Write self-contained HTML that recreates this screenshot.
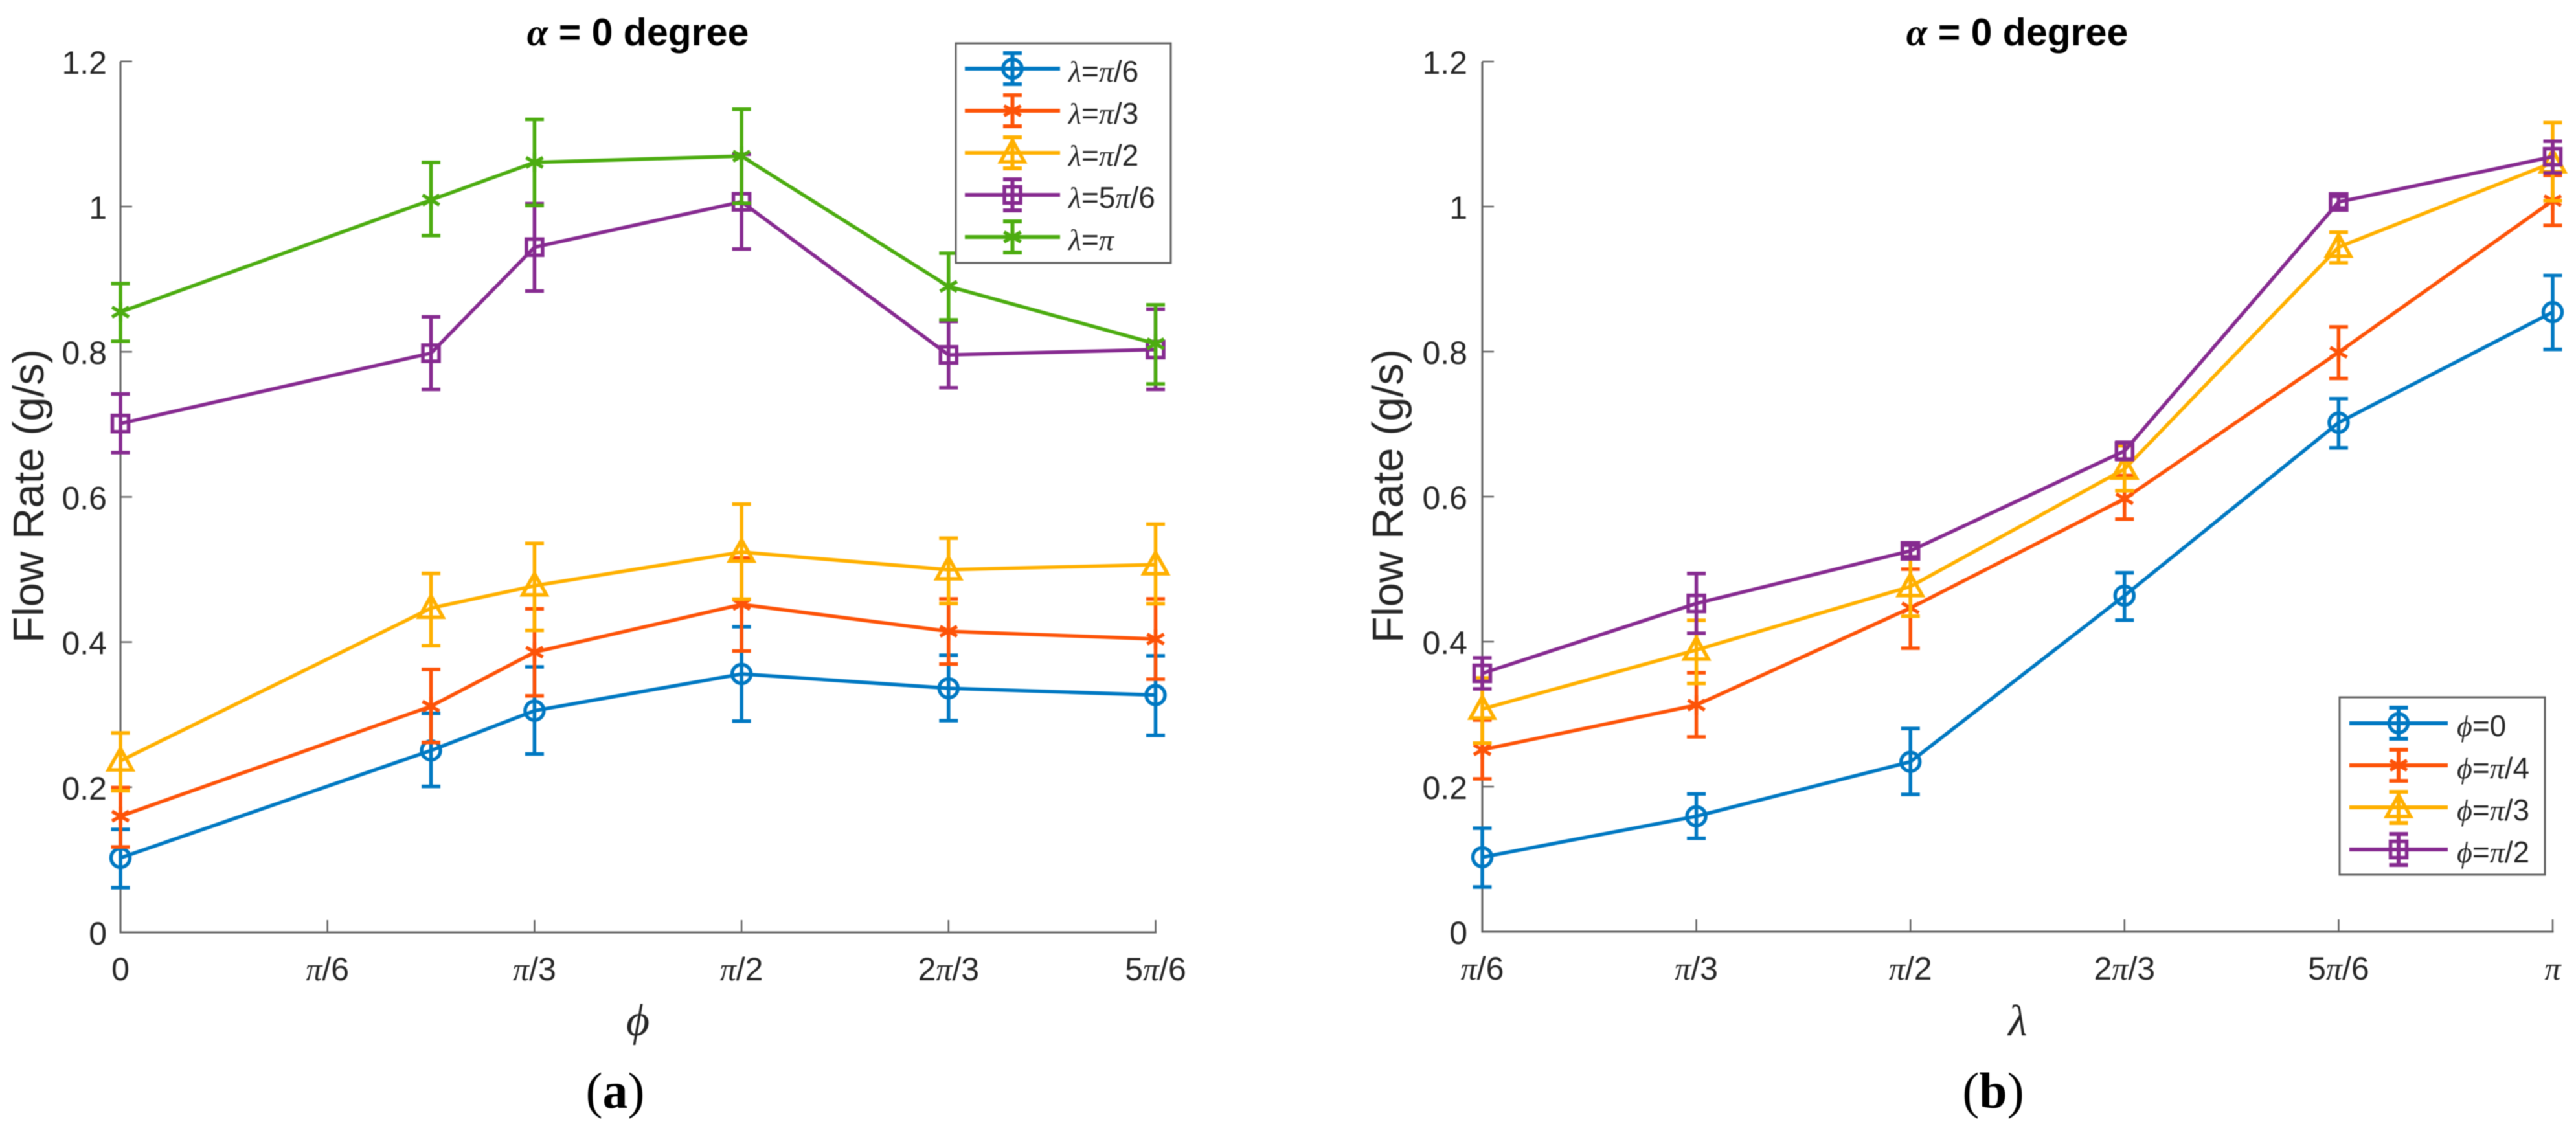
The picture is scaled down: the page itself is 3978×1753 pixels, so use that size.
<!DOCTYPE html>
<html lang="en">
<head>
<meta charset="utf-8">
<title>Flow rate vs phi and lambda at alpha = 0 degree</title>
<style>
  html, body { margin: 0; padding: 0; background: #fff; }
  #figure { display: block; width: 3978px; height: 1753px; filter: blur(0.8px); }
  text { font-family: "Liberation Sans", sans-serif; fill: #262626; }
</style>
</head>
<body>
<svg id="figure" xmlns="http://www.w3.org/2000/svg" width="3978" height="1753" viewBox="0 0 3978 1753">
  <rect x="0" y="0" width="3978" height="1753" fill="#ffffff"/>

  <text x="985" y="70" text-anchor="middle" font-size="59" font-weight="bold" style="fill:#000"><tspan font-family="Liberation Serif" font-style="italic">α</tspan> = 0 degree</text>
  <text x="3115" y="70" text-anchor="middle" font-size="59" font-weight="bold" style="fill:#000"><tspan font-family="Liberation Serif" font-style="italic">α</tspan> = 0 degree</text>

  <text transform="translate(67,766) rotate(-90)" text-anchor="middle" font-size="67">Flow Rate (g/s)</text>
  <text transform="translate(2166,766) rotate(-90)" text-anchor="middle" font-size="67">Flow Rate (g/s)</text>

  <text x="985" y="1599" text-anchor="middle" font-size="70" font-style="italic" style="font-family:'Liberation Serif',serif">ϕ</text>
  <text x="3116" y="1599" text-anchor="middle" font-size="68" font-style="italic" style="font-family:'Liberation Serif',serif">λ</text>

  <text x="950" y="1711" text-anchor="middle" font-size="78" style="font-family:'Liberation Serif',serif;fill:#000">(<tspan font-weight="bold">a</tspan>)</text>
  <text x="3078" y="1711" text-anchor="middle" font-size="78" style="font-family:'Liberation Serif',serif;fill:#000">(<tspan font-weight="bold">b</tspan>)</text>
</svg>

<script>
// ---------- Shared tick data ----------
const yTickValues = [0, 0.2, 0.4, 0.6, 0.8, 1, 1.2];
const yTickLabels = ['0', '0.2', '0.4', '0.6', '0.8', '1', '1.2'];

// ---------- Panel (a): x is phi, in units of pi/6 ----------
const aCategories = [0, 1.5, 2, 3, 4, 5];
const aTickValues = [0, 1, 2, 3, 4, 5];
const aTickLabels = ['0', 'π/6', 'π/3', 'π/2', '2π/3', '5π/6'];
const aSeriesNames = ['λ=π/6', 'λ=π/3', 'λ=π/2', 'λ=5π/6', 'λ=π'];

const aPi6Values = [0.1026, 0.2506, 0.3054, 0.356, 0.3363, 0.3269];
const aPi6Upper  = [0.1418, 0.3018, 0.3657, 0.421, 0.3818, 0.381];
const aPi6Lower  = [0.0615, 0.2011, 0.2458, 0.291, 0.2917, 0.2714];

const aPi3Values = [0.16, 0.3115, 0.386, 0.4518, 0.4148, 0.4041];
const aPi3Upper  = [0.1995, 0.3623, 0.4457, 0.516, 0.4594, 0.4594];
const aPi3Lower  = [0.1176, 0.2616, 0.3258, 0.3876, 0.3696, 0.3488];

const aPi2Values = [0.2363, 0.4466, 0.4775, 0.524, 0.4996, 0.5066];
const aPi2Upper  = [0.2747, 0.4945, 0.536, 0.59, 0.543, 0.5625];
const aPi2Lower  = [0.195, 0.395, 0.416, 0.459, 0.453, 0.4527];

const a5Pi6Values = [0.701, 0.798, 0.944, 1.0065, 0.7956, 0.803];
const a5Pi6Upper  = [0.7417, 0.848, 1.004, 1.072, 0.8416, 0.8585];
const a5Pi6Lower  = [0.661, 0.748, 0.8836, 0.9415, 0.7505, 0.748];

const aPiValues = [0.8546, 1.009, 1.0608, 1.0695, 0.89, 0.811];
const aPiUpper  = [0.8938, 1.0608, 1.12, 1.134, 0.9358, 0.8646];
const aPiLower  = [0.8144, 0.96, 1.0014, 1.0045, 0.844, 0.7556];

// ---------- Panel (b): x is lambda, in units of pi/6 ----------
const bCategories = [1, 2, 3, 4, 5, 6];
const bTickValues = [1, 2, 3, 4, 5, 6];
const bTickLabels = ['π/6', 'π/3', 'π/2', '2π/3', '5π/6', 'π'];
const bSeriesNames = ['ϕ=0', 'ϕ=π/4', 'ϕ=π/3', 'ϕ=π/2'];

const bZeroValues = [0.1027, 0.1592, 0.2343, 0.4634, 0.702, 0.8544];
const bZeroUpper  = [0.1428, 0.19, 0.2803, 0.495, 0.735, 0.905];
const bZeroLower  = [0.0616, 0.1288, 0.1893, 0.4297, 0.6672, 0.803];

const bPi4Values = [0.2509, 0.3125, 0.4464, 0.597, 0.799, 1.008];
const bPi4Upper  = [0.292, 0.357, 0.5, 0.629, 0.834, 1.043];
const bPi4Lower  = [0.2107, 0.2687, 0.391, 0.569, 0.763, 0.974];

const bPi3Values = [0.307, 0.3885, 0.476, 0.638, 0.944, 1.0605];
const bPi3Upper  = [0.35, 0.4295, 0.517, 0.67, 0.9645, 1.1157];
const bPi3Lower  = [0.26, 0.3423, 0.435, 0.608, 0.9224, 1.008];

const bPi2Values = [0.3562, 0.4526, 0.5252, 0.6629, 1.0063, 1.0687];
const bPi2Upper  = [0.3777, 0.494, 0.533, 0.675, 1.014, 1.09];
const bPi2Lower  = [0.3348, 0.4116, 0.517, 0.651, 0.998, 1.0464];

// ---------- Series style order (MATLAB-like palette) ----------
const seriesColors = ['#0078c2', '#fd5308', '#ffb000', '#862a90', '#4cac10'];
const seriesMarkers = ['circle', 'star', 'triangle', 'square', 'star'];

// ---------- Drawing helpers ----------
const SVG_NS = 'http://www.w3.org/2000/svg';
const svg = document.getElementById('figure');

function mk(parent, tag, attrs) {
  const el = document.createElementNS(SVG_NS, tag);
  for (const k in attrs) el.setAttribute(k, attrs[k]);
  parent.appendChild(el);
  return el;
}

// Greek letters in a label go to a serif italic face, everything else sans.
function richText(el, str) {
  const parts = str.split(/([πλϕ])/);
  parts.forEach(function (p) {
    if (!p) return;
    const t = document.createElementNS(SVG_NS, 'tspan');
    if (/[πλϕ]/.test(p)) {
      t.setAttribute('font-family', 'Liberation Serif');
      t.setAttribute('font-style', 'italic');
    }
    t.textContent = p;
    el.appendChild(t);
  });
}

function drawMarker(parent, kind, cx, cy, color) {
  const g = mk(parent, 'g', { fill: 'none', stroke: color, 'stroke-width': 5.5 });
  
  
  if (kind === 'circle') {
    mk(g, 'circle', { cx: cx, cy: cy, r: 14.5 });
  } else if (kind === 'square') {
    mk(g, 'rect', { x: cx - 12.5, y: cy - 12.5, width: 25, height: 25 });
  } else if (kind === 'triangle') {
    mk(g, 'polygon', { points: (cx) + ',' + (cy - 19) + ' ' + (cx + 18.5) + ',' + (cy + 14) + ' ' + (cx - 18.5) + ',' + (cy + 14) });
  } else {
    const r = 15, dx = r * 0.866, dy = r * 0.5;
    mk(g, 'line', { x1: cx, y1: cy - r, x2: cx, y2: cy + r });
    mk(g, 'line', { x1: cx - dx, y1: cy - dy, x2: cx + dx, y2: cy + dy });
    mk(g, 'line', { x1: cx - dx, y1: cy + dy, x2: cx + dx, y2: cy - dy });
  }
}

function drawAxes(group, xScale, yScale, xTicks, xLabels, yAnchorX, prefix) {
  const left = xScale(xTicks[0]);
  const right = xScale(xTicks[xTicks.length - 1]);
  const bottom = yScale(0);
  const top = yScale(1.2);
  const spineY = mk(group, 'line', { x1: left, y1: top, x2: left, y2: bottom + 1.5, stroke: '#626262', 'stroke-width': 3 });
  
  
  const spineX = mk(group, 'line', { x1: left, y1: bottom, x2: right + 1.5, y2: bottom, stroke: '#626262', 'stroke-width': 3 });
  
  

  yTickValues.forEach(function (v, i) {
    const y = yScale(v);
    const tick = mk(group, 'line', { x1: left, y1: y, x2: left + 18, y2: y, stroke: '#626262', 'stroke-width': 2.5 });
    
    
    const label = mk(group, 'text', { x: yAnchorX, y: y + 19, 'text-anchor': 'end', 'font-size': 50 });
    
    
    label.textContent = yTickLabels[i];
  });

  xTicks.forEach(function (v, i) {
    const x = xScale(v);
    const tick = mk(group, 'line', { x1: x, y1: bottom, x2: x, y2: bottom - 19, stroke: '#626262', 'stroke-width': 2.5 });
    
    
    const label = mk(group, 'text', { x: x, y: bottom + 74, 'text-anchor': 'middle', 'font-size': 50 });
    
    
    richText(label, xLabels[i]);
  });
}

function drawSeries(group, xScale, yScale, xs, values, upper, lower, idx, name) {
  const color = seriesColors[idx];
  const g = mk(group, 'g', {});
  
  
  const pts = xs.map(function (x, i) { return xScale(x) + ',' + yScale(values[i]); }).join(' ');
  const line = mk(g, 'polyline', { points: pts, fill: 'none', stroke: color, 'stroke-width': 5.5, 'stroke-linejoin': 'round' });
  
  
  xs.forEach(function (x, i) {
    const px = xScale(x);
    const yU = yScale(upper[i]);
    const yL = yScale(lower[i]);
    const bar = mk(g, 'path', {
      d: 'M' + px + ' ' + yU + 'V' + yL + 'M' + (px - 14.5) + ' ' + yU + 'H' + (px + 14.5) + 'M' + (px - 14.5) + ' ' + yL + 'H' + (px + 14.5),
      fill: 'none', stroke: color, 'stroke-width': 5.5
    });
    
    
    drawMarker(g, seriesMarkers[idx], px, yScale(values[i]), color);
  });
}

function drawLegend(box, rowY, lineX1, lineX2, markerX, textX, names, prefix) {
  const g = mk(svg, 'g', {});
  
  
  const frame = mk(g, 'rect', { x: box[0], y: box[1], width: box[2], height: box[3], fill: '#ffffff', stroke: '#626262', 'stroke-width': 3 });
  
  
  names.forEach(function (name, i) {
    const y = rowY + i * 65;
    const color = seriesColors[i];
    const entry = mk(g, 'g', {});
    
    
    mk(entry, 'line', { x1: lineX1, y1: y, x2: lineX2, y2: y, stroke: color, 'stroke-width': 6 });
    mk(entry, 'path', {
      d: 'M' + markerX + ' ' + (y - 24) + 'V' + (y + 24) + 'M' + (markerX - 14.5) + ' ' + (y - 24) + 'H' + (markerX + 14.5) + 'M' + (markerX - 14.5) + ' ' + (y + 24) + 'H' + (markerX + 14.5),
      fill: 'none', stroke: color, 'stroke-width': 6
    });
    drawMarker(entry, seriesMarkers[i], markerX, y, color);
    const label = mk(entry, 'text', { x: textX, y: y + 20, 'font-size': 46 });
    
    
    richText(label, name);
  });
}

// ---------- Axis functions ----------
function xA(u) { return 186 + u * 319.7; }
function yA(v) { return 1440 - v * 1121; }
function xB(u) { return 2289 + (u - 1) * 330.6; }
function yB(v) { return 1439 - v * 1120; }

// ---------- Panel (a) ----------
const panelA = mk(svg, 'g', {});


drawAxes(panelA, xA, yA, aTickValues, aTickLabels, 165, 'panel-a');
drawSeries(panelA, xA, yA, aCategories, aPi6Values, aPi6Upper, aPi6Lower, 0, 'lambda-pi-6');
drawSeries(panelA, xA, yA, aCategories, aPi3Values, aPi3Upper, aPi3Lower, 1, 'lambda-pi-3');
drawSeries(panelA, xA, yA, aCategories, aPi2Values, aPi2Upper, aPi2Lower, 2, 'lambda-pi-2');
drawSeries(panelA, xA, yA, aCategories, a5Pi6Values, a5Pi6Upper, a5Pi6Lower, 3, 'lambda-5pi-6');
drawSeries(panelA, xA, yA, aCategories, aPiValues, aPiUpper, aPiLower, 4, 'lambda-pi');
drawLegend([1476, 67, 332, 339], 106, 1490, 1637, 1563.5, 1650, aSeriesNames, 'panel-a');

// ---------- Panel (b) ----------
const panelB = mk(svg, 'g', {});


drawAxes(panelB, xB, yB, bTickValues, bTickLabels, 2266, 'panel-b');
drawSeries(panelB, xB, yB, bCategories, bZeroValues, bZeroUpper, bZeroLower, 0, 'phi-0');
drawSeries(panelB, xB, yB, bCategories, bPi4Values, bPi4Upper, bPi4Lower, 1, 'phi-pi-4');
drawSeries(panelB, xB, yB, bCategories, bPi3Values, bPi3Upper, bPi3Lower, 2, 'phi-pi-3');
drawSeries(panelB, xB, yB, bCategories, bPi2Values, bPi2Upper, bPi2Lower, 3, 'phi-pi-2');
drawLegend([3613, 1077, 317, 274], 1117, 3628, 3780, 3704, 3794, bSeriesNames, 'panel-b');
</script>
</body>
</html>
